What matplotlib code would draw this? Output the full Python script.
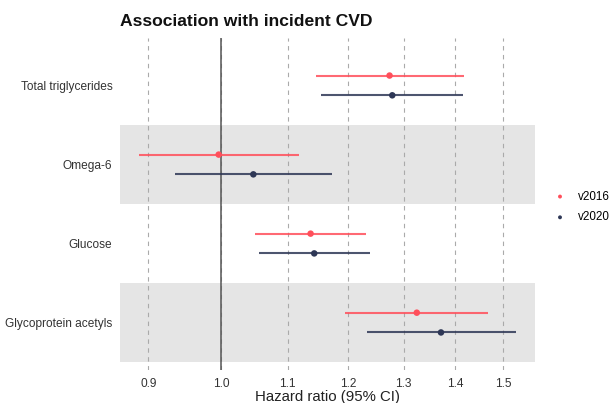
import numpy as np
import matplotlib
matplotlib.use("Agg")
import matplotlib.pyplot as plt
from matplotlib.ticker import FixedLocator, NullLocator, FixedFormatter

plt.rcParams['font.family'] = ['Liberation Sans', 'DejaVu Sans']

categories = ["Total triglycerides", "Omega-6", "Glucose", "Glycoprotein acetyls"]
series = ["v2016", "v2020"]
hr_2016 = [1.274, 0.996, 1.137, 1.325]
lo_2016 = [1.146, 0.888, 1.049, 1.195]
hi_2016 = [1.418, 1.118, 1.232, 1.469]
hr_2020 = [1.279, 1.047, 1.143, 1.372]
lo_2020 = [1.154, 0.935, 1.055, 1.233]
hi_2020 = [1.417, 1.173, 1.239, 1.528]
xticks = [0.9, 1.0, 1.1, 1.2, 1.3, 1.4, 1.5]

colors = {"v2016": "#FF4F5B", "v2020": "#2E3756"}
data = {"v2016": (hr_2016, lo_2016, hi_2016), "v2020": (hr_2020, lo_2020, hi_2020)}
offsets = {"v2016": 0.125, "v2020": -0.125}

fig = plt.figure(figsize=(6.16, 4.03), dpi=100)
ax = fig.add_axes([120/616, 33/403, 415/616, 332/403])
ax.set_xscale('log')
ax.set_xlim(0.864, 1.571)
n = len(categories)
ypos = np.arange(n)[::-1] + 1  # top category highest
ax.set_ylim(0.4, n + 0.6)

# alternating bands
for i, y in enumerate(ypos):
    if i % 2 == 1:
        ax.axhspan(y - 0.5, y + 0.5, color="#E5E5E5", lw=0, zorder=0)

for t in xticks:
    ax.axvline(t, color="#AAAAAA", lw=0.8, ls=(0, (4, 4)), zorder=1)
ax.axvline(1.0, color="#555555", lw=1.1, zorder=2)

for s in series:
    hr, lo, hi = data[s]
    yy = ypos + offsets[s]
    ax.hlines(yy, lo, hi, color=colors[s], lw=1.5, alpha=0.85, zorder=3)
    ax.scatter(hr, yy, color=colors[s], s=22, zorder=4, label=s, edgecolors='none')

ax.xaxis.set_major_locator(FixedLocator(xticks))
ax.xaxis.set_major_formatter(FixedFormatter([f"{t:.1f}" for t in xticks]))
ax.xaxis.set_minor_locator(NullLocator())
ax.set_yticks(ypos)
ax.set_yticklabels(categories)
ax.tick_params(axis='both', length=0, labelsize=8.6, colors="#333333", labelcolor="#333333")
ax.tick_params(axis='x', pad=5.5)
ax.tick_params(axis='y', pad=5.5)
for sp in ax.spines.values():
    sp.set_visible(False)

ax.set_xlabel("Hazard ratio (95% CI)", fontsize=10.8, color="#222222", labelpad=0)
fig.text(120/616, 1 - 22/403, "Association with incident CVD", fontsize=12.6,
         fontweight='bold', ha='left', va='center', color="#111111")

leg = fig.legend(*ax.get_legend_handles_labels(), loc='center left',
                 bbox_to_anchor=(553/616, 1 - 207/403), frameon=False,
                 fontsize=8.4, markerscale=0.6, handlelength=1.2, handletextpad=0.9,
                 labelspacing=0.75, borderpad=0, borderaxespad=0)

fig.savefig("out.png", dpi=100)
